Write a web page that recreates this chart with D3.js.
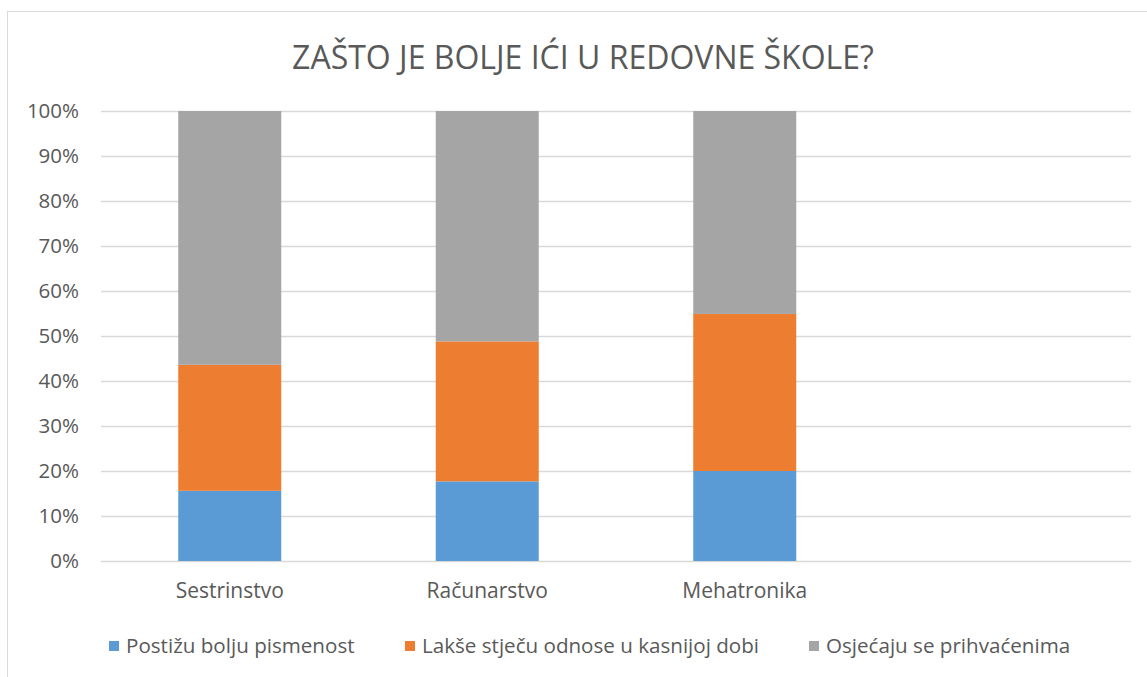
<!DOCTYPE html>
<html>
<head>
<meta charset="utf-8">
<script src="https://cdn.jsdelivr.net/npm/d3@7"></script>
<style>
  body { margin: 0; background: #fff; }
  svg { display: block; font-family: 'Open Sans', sans-serif; }
</style>
</head>
<body>
<svg id="chart"></svg>
<script>
// categories (4th slot is empty in the original sheet)
const categories = ['Sestrinstvo', 'Računarstvo', 'Mehatronika', ''];
const seriesNames = ['Postižu bolju pismenost', 'Lakše stječu odnose u kasnijoj dobi', 'Osjećaju se prihvaćenima'];
const pismenost = [15.6, 17.7, 20.0, null];
const odnosi = [28.0, 31.1, 34.9, null];
const prihvaceni = [56.4, 51.2, 45.1, null];
const yTicks = [0, 10, 20, 30, 40, 50, 60, 70, 80, 90, 100];
const colors = ['#5B9BD5', '#ED7D31', '#A5A5A5'];

const width = 1147, height = 677;
const margin = { top: 111, right: 16, bottom: 116, left: 101 };
const font = "'Open Sans', sans-serif";

const svg = d3.select('#chart').attr('width', width).attr('height', height);

// chart border
svg.append('rect')
  .attr('x', 7.5).attr('y', 11.5)
  .attr('width', 1160).attr('height', 700)
  .attr('fill', 'none').attr('stroke', '#D9D9D9');

svg.append('text')
  .attr('x', 583).attr('y', 58)
  .attr('dy', '0.35em')
  .attr('text-anchor', 'middle')
  .attr('font-size', 32)
  .attr('fill', '#595959')
  .text('ZAŠTO JE BOLJE IĆI U REDOVNE ŠKOLE?');

const x = d3.scaleBand()
  .domain(d3.range(categories.length))
  .range([margin.left, width - margin.right])
  .paddingInner(0.6).paddingOuter(0.3);

const y = d3.scaleLinear().domain([0, 100]).range([height - margin.bottom, margin.top]);

// gridlines
svg.append('g')
  .selectAll('line')
  .data(yTicks)
  .join('line')
  .attr('x1', margin.left).attr('x2', width - margin.right)
  .attr('y1', d => Math.round(y(d)) + 0.5).attr('y2', d => Math.round(y(d)) + 0.5)
  .attr('stroke', '#D9D9D9').attr('stroke-width', 1.5);

const yAxis = svg.append('g')
  .attr('transform', `translate(${margin.left - 22},0)`)
  .call(d3.axisLeft(y).tickValues(yTicks).tickFormat(d => d + '%').tickSize(0).tickPadding(0));
yAxis.select('.domain').remove();
yAxis.selectAll('text').attr('font-size', 20.5).attr('fill', '#595959').attr('font-family', font);

const rows = categories.map((c, i) => ({ i, a: pismenost[i], b: odnosi[i], c: prihvaceni[i] }))
  .filter(d => d.a != null);
const stack = d3.stack().keys(['a', 'b', 'c'])(rows);

svg.append('g')
  .selectAll('g')
  .data(stack)
  .join('g')
  .attr('fill', (d, i) => colors[i])
  .selectAll('rect')
  .data(d => d)
  .join('rect')
  .attr('x', d => x(d.data.i))
  .attr('width', x.bandwidth())
  .attr('y', d => y(d[1]))
  .attr('height', d => y(d[0]) - y(d[1]));

const xAxis = svg.append('g')
  .attr('transform', `translate(0,591)`)
  .call(d3.axisBottom(x).tickFormat(i => categories[i]).tickSize(0).tickPadding(0));
xAxis.select('.domain').remove();
xAxis.selectAll('text').attr('font-size', 21).attr('fill', '#595959').attr('font-family', font)
  .attr('dy', '0.35em');

// legend
const legendX = [109, 405, 809];
const legend = svg.append('g')
  .selectAll('g')
  .data(seriesNames)
  .join('g')
  .attr('transform', (d, i) => `translate(${legendX[i]},641)`);
legend.append('rect').attr('width', 10).attr('height', 10).attr('fill', (d, i) => colors[i]);
legend.append('text')
  .attr('x', 17).attr('y', 5).attr('dy', '0.35em')
  .attr('font-size', 20.6).attr('fill', '#595959')
  .text(d => d);
</script>
</body>
</html>
